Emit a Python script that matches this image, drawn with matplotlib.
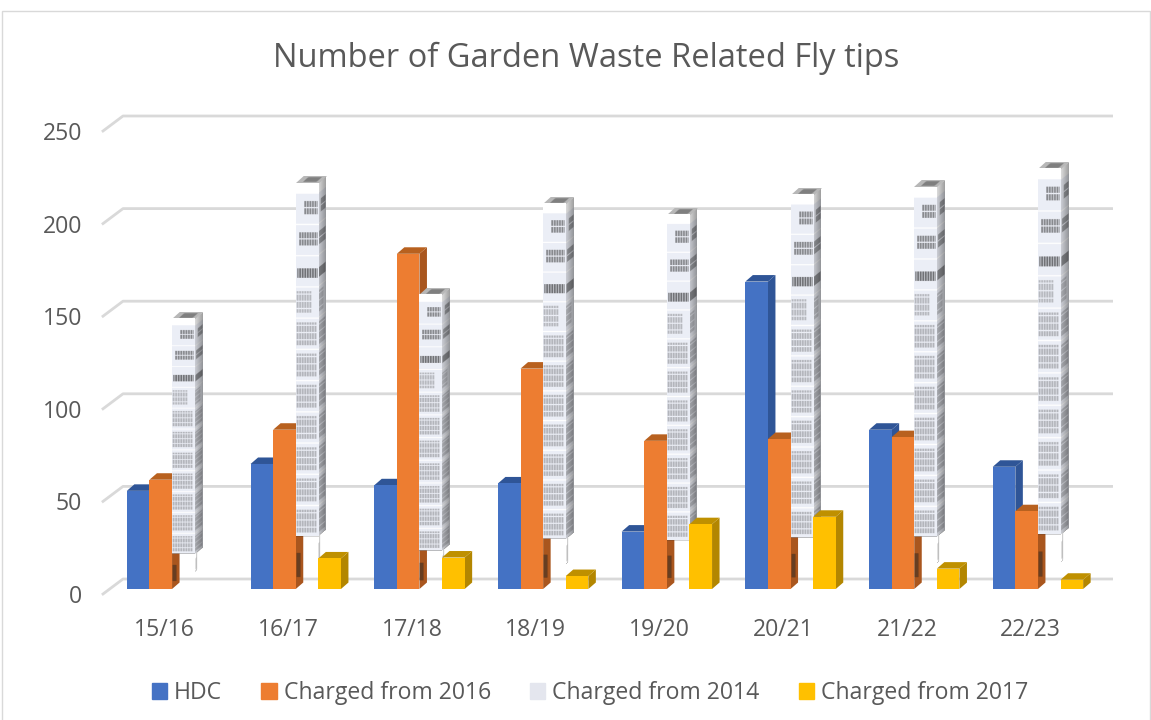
import matplotlib

matplotlib.use("Agg")
import matplotlib.pyplot as plt
import numpy as np
from matplotlib.patches import Patch, Rectangle
from matplotlib.transforms import Affine2D

plt.rcParams["font.family"] = ["Open Sans", "DejaVu Sans"]

years = ["15/16", "16/17", "17/18", "18/19", "19/20", "20/21", "21/22", "22/23"]
hdc = [53, 67.5, 56, 57, 31, 166, 86, 66]
from_2016 = [59, 86, 181, 119, 80, 81, 82, 42]
from_2014 = [146, 219, 159, 208, 202, 213, 217, 227]
from_2017 = [0, 16.5, 17, 7, 35, 39, 11, 5]
y_ticks = [0, 50, 100, 150, 200, 250]

TEXT = "#595959"
GRID = "#d9d9d9"
FW, FH = 1151, 720
PX_Y = 463 / 250  # pixels per unit on the value axis
PX_X = 123.7  # pixels per category

BAR_W = 22.6 / PX_X
BAR_X0 = -38 / PX_X
LIFT = 5 / PX_Y  # bars stand in the middle of the floor
DX, DY = 7.5 / PX_X, 6.5 / PX_Y
WALL_DX, WALL_DY = 20 / PX_X, 15 / PX_Y


def make_picture(side=False):
    # the grey series is a stretched picture fill, so build that picture once
    rows_per = 26
    n_blocks = 11
    pad = 8
    blank = 44
    h = pad + rows_per * n_blocks + blank
    w = 36
    pic = np.zeros((h, w, 4))
    pic[: pad + rows_per * n_blocks, :, :3] = 1
    pic[: pad + rows_per * n_blocks, :, 3] = 1
    base = np.array([0.925, 0.935, 0.965])
    layouts = [
        (range(12, 34), 6, 18, 0.42),
        (range(4, 34), 7, 19, 0.42),
        (range(2, 34), 11, 19, 0.52),
        (range(0, 24), 4, 22, 0.22),
    ]
    for b in range(n_blocks):
        top = pad + b * rows_per
        pic[top + 1 : top + rows_per, :, :3] = base
        cols, r0, r1, dark = layouts[b] if b < 4 else (range(0, 32), 4, 23, 0.24)
        for c in cols:
            if c % 4 == 0:
                continue
            for r in range(r0, r1):
                if r % 6 != 0 or b == 2:
                    pic[top + r, c, :3] = base * (1 - dark)
    if side:
        # the side wall is the same picture in shadow, fading to the back
        fade = np.linspace(0.86, 0.62, w)[None, :, None]
        pic[:, :, :3] = pic[:, :, :3] * fade
        pic[h - blank : h - blank + 22, 0:8, :3] = 1
        pic[h - blank : h - blank + 22, 0:8, 3] = 1
        pic[h - blank + 6 : h - blank + 20, 3:5, :3] = 0.55
    else:
        # stray dark marks at the foot of the picture, over the orange side
        pic[h - 30 : h - 10, 1:7, :3] = 0.15
        pic[h - 30 : h - 10, 1:7, 3] = 0.5
    return pic


def make_top():
    top = np.full((6, 12, 4), 1.0)
    top[:, :, :3] = 0.72
    top[1:5, 3:10, :3] = 0.5
    return top


fig = plt.figure(figsize=(FW / 100, FH / 100), dpi=100, facecolor="white")
fig.add_artist(
    Rectangle((1.5 / FW, -0.01), (FW - 3) / FW, 1.01 - 10.5 / FH, transform=fig.transFigure,
              fill=False, edgecolor=GRID, linewidth=1.0)
)
ax = fig.add_axes((103 / FW, 1 - 594 / FH, 8 * PX_X / FW, 463 / FH))
ax.patch.set_visible(False)

x_idx = np.arange(len(years))

# floor and back wall lines
for v in y_ticks:
    ax.plot([-0.5, -0.5 + WALL_DX, 7.5 + 19 / PX_X], [v, v + WALL_DY, v + WALL_DY],
            color=GRID, linewidth=2.0, clip_on=False, zorder=1)

series = [
    (hdc, "#4472c4", "#2f5597", "#2f5597"),
    (from_2016, "#ed7d31", "#a9561e", "#b8611f"),
    (from_2017, "#ffc000", "#b38600", "#bf9000"),
]
picture = make_picture()
picture_side = make_picture(side=True)
picture_top = make_top()


def draw_solid(lefts, vals, front, side, top, z):
    for left, v in zip(lefts, vals):
        if v <= 0:
            continue
        right = left + BAR_W
        y1 = LIFT + v
        ax.fill([right, right + DX, right + DX, right],
                [LIFT, LIFT + DY, y1 + DY, y1], color=side, lw=0, clip_on=False, zorder=z)
        ax.fill([left, left + DX, right + DX, right],
                [y1, y1 + DY, y1 + DY, y1], color=top, lw=0, clip_on=False, zorder=z)
    ax.bar(lefts, vals, width=BAR_W, bottom=LIFT, align="edge", color=front,
           linewidth=0, clip_on=False, zorder=z + 0.5)


draw_solid(x_idx + BAR_X0, hdc, *series[0][1:], 2)
draw_solid(x_idx + BAR_X0 + BAR_W, from_2016, *series[1][1:], 3)

# grey series with its picture fill
for i, v in zip(x_idx, from_2014):
    left = i + BAR_X0 + 2 * BAR_W
    right = left + BAR_W
    ax.imshow(picture, extent=(left, right, LIFT, LIFT + v), aspect="auto",
              interpolation="bilinear", interpolation_stage="rgba", zorder=4.5, clip_on=False)
    im = ax.imshow(picture_side, extent=(0, 1, 0, 1), aspect="auto",
                   interpolation="bilinear", interpolation_stage="rgba", zorder=4, clip_on=False)
    im.set_transform(Affine2D.from_values(DX, DY, 0, v, right, LIFT) + ax.transData)
    im = ax.imshow(picture_top, extent=(0, 1, 0, 1), aspect="auto",
                   interpolation="bilinear", interpolation_stage="rgba", zorder=4, clip_on=False)
    im.set_transform(Affine2D.from_values(BAR_W, 0, DX, DY, left, LIFT + v) + ax.transData)

draw_solid(x_idx + BAR_X0 + 3 * BAR_W, from_2017, *series[2][1:], 5)

ax.set_xlim(-0.5, 7.5)
ax.set_ylim(0, 250)
ax.set_aspect("auto")
for s in ax.spines.values():
    s.set_visible(False)
ax.set_xticks(x_idx, years)
ax.set_yticks(y_ticks)
ax.tick_params(axis="both", length=0, labelsize=16.6, labelcolor=TEXT)
ax.tick_params(axis="y", pad=15)
ax.tick_params(axis="x", pad=17)

fig.text(586 / FW, 1 - 58 / FH, "Number of Garden Waste Related Fly tips",
         ha="center", va="center", fontsize=23.5, color=TEXT)

handles = [
    Patch(color="#4472c4", label="HDC"),
    Patch(color="#ed7d31", label="Charged from 2016"),
    Patch(color="#e4e6ee", label="Charged from 2014"),
    Patch(color="#ffc000", label="Charged from 2017"),
]
fig.legend(handles=handles, ncol=4, loc="center", bbox_to_anchor=(590 / FW, 1 - 693 / FH),
           frameon=False, fontsize=16.6, labelcolor=TEXT, handlelength=0.66, handleheight=0.66,
           handletextpad=0.3, columnspacing=1.7, borderpad=0, borderaxespad=0)

fig.savefig("out.png", dpi=100)
